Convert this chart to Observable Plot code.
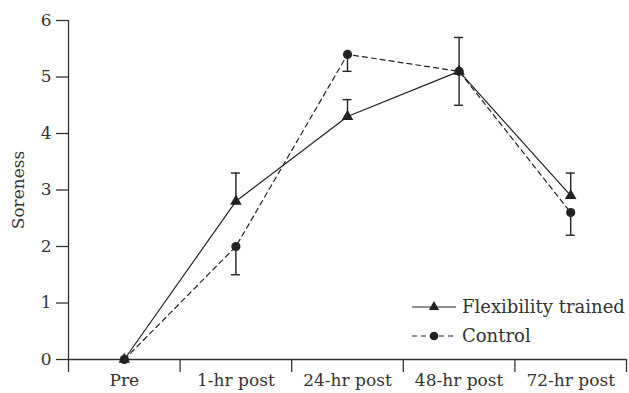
<!DOCTYPE html>
<html>
<head>
<meta charset="utf-8">
<script src="https://cdn.jsdelivr.net/npm/d3@7"></script>
<script src="https://cdn.jsdelivr.net/npm/@observablehq/plot@0.6"></script>
<style>
  html, body { margin: 0; padding: 0; background: #fff; }
  #chart { position: relative; width: 629px; height: 393px; font-family: "DejaVu Serif", serif; }
  #legend { position: absolute; left: 0; top: 0; pointer-events: none; }
</style>
</head>
<body>
<div id="chart"></div>
<script>
const categories = ["Pre", "1-hr post", "24-hr post", "48-hr post", "72-hr post"];
const flexMean = [0, 2.8, 4.3, 5.1, 2.9];
const flexErr  = [0, 0.5, 0.3, 0.6, 0.4];
const ctrlMean = [0, 2.0, 5.4, 5.1, 2.6];
const ctrlErr  = [0, 0.5, 0.3, 0.6, 0.4];
const yTicks = [0, 1, 2, 3, 4, 5, 6];
const seriesNames = ["Flexibility trained", "Control"];

const ink = "#222";
const axisInk = "#333";

const flex = categories.map((c, i) => ({x: i + 0.5, y: flexMean[i], e: flexErr[i]}));
const ctrl = categories.map((c, i) => ({x: i + 0.5, y: ctrlMean[i], e: ctrlErr[i]}));
const boundaries = d3.range(categories.length + 1);
const centers = categories.map((c, i) => i + 0.5);

const plot = Plot.plot({
  width: 629,
  height: 393,
  marginLeft: 68,
  marginRight: 3,
  marginTop: 20,
  marginBottom: 34,
  style: {fontFamily: "DejaVu Serif, serif", fontSize: "17px", color: axisInk, background: "#fff"},
  x: {type: "linear", domain: [0, categories.length]},
  y: {domain: [0, 6]},
  marks: [
    // y axis
    Plot.axisY({ticks: yTicks, tickSize: 12, tickPadding: 5, tickFormat: d3.format("d"),
      label: "Soreness", labelAnchor: "center", labelArrow: "none", labelOffset: 57,
      stroke: axisInk, strokeWidth: 1.3, fill: axisInk}),
    Plot.ruleX([0], {y1: 0, y2: 6, stroke: axisInk, strokeWidth: 1.3}),
    // x axis
    Plot.ruleY([0], {stroke: axisInk, strokeWidth: 1.3}),
    Plot.axisX({ticks: boundaries, tickSize: 13, tickFormat: () => "", label: null,
      stroke: axisInk, strokeWidth: 1.3}),
    Plot.axisX({ticks: centers, tickSize: 0, tickPadding: 14, label: null,
      tickFormat: d => categories[Math.round(d - 0.5)], fill: axisInk}),
    // error bars
    Plot.ruleX(flex.filter(d => d.e > 0), {x: "x", y1: "y", y2: d => d.y + d.e, stroke: ink, strokeWidth: 1.4}),
    Plot.ruleY(flex.filter(d => d.e > 0), {x1: "x", x2: "x", y: d => d.y + d.e, stroke: ink, strokeWidth: 1.4, insetLeft: -4.5, insetRight: -4.5}),
    Plot.ruleX(ctrl.filter(d => d.e > 0), {x: "x", y1: "y", y2: d => d.y - d.e, stroke: ink, strokeWidth: 1.4}),
    Plot.ruleY(ctrl.filter(d => d.e > 0), {x1: "x", x2: "x", y: d => d.y - d.e, stroke: ink, strokeWidth: 1.4, insetLeft: -4.5, insetRight: -4.5}),
    // lines
    Plot.line(flex, {x: "x", y: "y", stroke: ink, strokeWidth: 1.2}),
    Plot.line(ctrl, {x: "x", y: "y", stroke: ink, strokeWidth: 1.2, strokeDasharray: "5,4"}),
    // markers
    Plot.dot(flex, {x: "x", y: "y", symbol: "triangle", r: 4.3, fill: ink, stroke: "none"}),
    Plot.dot(ctrl, {x: "x", y: "y", symbol: "circle", r: 4.6, fill: ink, stroke: "none"})
  ]
});

const chart = document.getElementById("chart");
chart.appendChild(plot);

// Legend overlay
const leg = d3.select(chart).append("svg")
  .attr("id", "legend").attr("width", 629).attr("height", 393);
const rows = [
  {name: seriesNames[0], dash: null, sym: d3.symbolTriangle, size: 45, cy: 307},
  {name: seriesNames[1], dash: "5,4", sym: d3.symbolCircle, size: 60, cy: 336}
];
rows.forEach(r => {
  const g = leg.append("g");
  g.append("line").attr("x1", 412).attr("x2", 456).attr("y1", r.cy).attr("y2", r.cy)
    .attr("stroke", ink).attr("stroke-width", 1.2).attr("stroke-dasharray", r.dash);
  g.append("path").attr("d", d3.symbol(r.sym, r.size)())
    .attr("transform", `translate(434,${r.cy})`).attr("fill", ink);
  g.append("text").attr("x", 462).attr("y", r.cy).attr("dy", "0.35em")
    .attr("font-family", "DejaVu Serif, serif").attr("font-size", 18).attr("fill", axisInk)
    .text(r.name);
});
</script>
</body>
</html>
